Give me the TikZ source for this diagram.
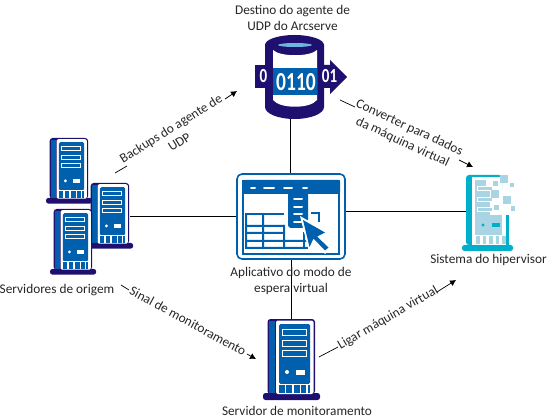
\documentclass[tikz,border=0pt]{standalone}
\usepackage{fontspec}
\setmainfont{Carlito}
\definecolor{navy}{HTML}{1F1070}
\definecolor{blu}{HTML}{0060AE}
\definecolor{teal1}{HTML}{00B0CA}
\definecolor{lite}{HTML}{A8D4E4}
\definecolor{skyb}{HTML}{6FB4E0}
\definecolor{txt}{HTML}{262626}
\usetikzlibrary{arrows.meta}
\tikzset{
  x=1pt,y=-1pt,
  lab/.style={font=\fontsize{13.3}{16}\selectfont,text=txt,align=center,inner sep=0pt},
  link/.style={draw=black,line width=.7pt},
  tip/.style={draw=black,line width=.7pt,-{Latex[length=6pt,width=6.5pt]}},
  hub/.style={inner sep=0pt,minimum size=0pt},
  digit/.style={inner sep=0pt,text=white,font=\bfseries\fontsize{26}{26}\selectfont,xscale=.75,transform shape},
  digits/.style={digit,font=\bfseries\fontsize{20}{20}\selectfont},
  pics/srv/.style={code={
    \fill[navy,rounded corners=2.5] (0,74) rectangle (57,81);
    \fill[navy,rounded corners=3] (4.5,0) rectangle (52,75);
    \fill[blu] (6,2) rectangle (12,74);
    \fill[white,rounded corners=2] (13,1.5) rectangle (50.5,75);
    \fill[blu,rounded corners=1.5] (16,5) rectangle (47,65);
    \fill[blu] (16,65) rectangle (47,74);
    \foreach \yy in {10,21,31}{\draw[white,line width=1pt,fill=blu] (19,\yy) rectangle (43,\yy+6);}
    \fill[white] (24,53) circle (2);
    \fill[white] (33,51) rectangle (42,55.5);
    \foreach \xx in {21.5,29,36.5,43}{\fill[white] (\xx,65) rectangle (\xx+1.6,74);}
    \fill[white] (16,64.5) rectangle (47,65.5);
  }},
  pics/hyper/.style={code={
    \fill[teal1,rounded corners=2.5] (0,70) rectangle (51,76);
    \fill[teal1,rounded corners=3] (4,0) rectangle (40,70);
    \fill[white] (10,2) rectangle (40,70);
    \fill[teal1] (44,40) rectangle (47,70);
    \fill[white] (40,40) rectangle (44,70);
    \fill[lite] (13,5) rectangle (40,60);
    \fill[white] (24,5) rectangle (40,14);
    \fill[white] (28,14) rectangle (43,40);
    \foreach \yy in {12,23,33}{\draw[white,line width=1pt,fill=lite] (15,\yy) rectangle (30,\yy+4);}
    \fill[lite] (38,0) rectangle (46,8);
    \fill[lite] (48,8) rectangle (52,12);
    \fill[lite] (31,6) rectangle (36,11);
    \fill[lite] (29,15) rectangle (37,23);
    \fill[lite] (41,21) rectangle (49,29);
    \fill[lite] (32,30) rectangle (37,35);
    \fill[lite] (49,31) rectangle (53,36);
    \fill[teal1] (21,50) circle (1.7);
    \fill[teal1] (30,48) rectangle (38,52);
    \foreach \xx in {14,20.5,27,33.5,40}{\fill[lite] (\xx,61) rectangle (\xx+3.5,69);}
  }}
}
\begin{document}
\begin{tikzpicture}
\useasboundingbox (0,0) rectangle (548,419);

% hubs
\node[hub] (dbb) at (290,118) {};
\node[hub] (appt) at (290,173) {};
\node[hub] (appb) at (291.5,260) {};
\node[hub] (appl) at (236,216) {};
\node[hub] (appr) at (346,211) {};
\node[hub] (srcr) at (130,216) {};
\node[hub] (monT) at (291.5,319) {};
\node[hub] (hypL) at (466,211) {};
\draw[link] (dbb) -- (appt);
\draw[link] (appb) -- (monT);
\draw[link] (srcr) -- (appl);
\draw[link] (appr) -- (hypL);

% source servers
\pic[scale=.81,transform shape] at (46,138) {srv};
\pic[scale=.81,transform shape] at (87,183) {srv};
\pic[scale=.81,transform shape] at (50,209) {srv};
% monitoring server
\pic at (263,319) {srv};
% hypervisor
\pic at (462,175) {hyper};

% database
\fill[navy] (255,65) rectangle (266,88);
\fill[navy] (322,65) -- (330,65) -- (330,60) -- (347,77) -- (330,94) -- (330,88) -- (322,88) -- cycle;
\fill[navy] (265,45) arc[start angle=180,end angle=360,x radius=29.5,y radius=10]
  -- (324,107) arc[start angle=0,end angle=180,x radius=29.5,y radius=12] -- cycle;
\fill[skyb] (295,45) ellipse (17 and 2);
\fill[white] (273,50) .. controls (280,57) and (310,57) .. (317,50) -- (317,100)
  .. controls (310,109) and (280,109) .. (273,100) -- cycle;
\fill[blu] (273,68) rectangle (317,95);
\node[digit] at (296,82) {0110};
\node[digits] at (263.5,76.5) {0};
\node[digits] at (329.5,76.5) {01};

% app
\draw[blu,line width=1.6pt,fill=white,rounded corners=5] (237,174) rectangle (345,259);
\draw[blu,line width=1.3pt] (243,181) rectangle (339,254);
\fill[blu,rounded corners=2] (242,180) rectangle (340,194);
\foreach \a/\b in {251/255,264/274,284/292,303/307}{\draw[white,line width=2pt,line cap=round] (\a,188) -- (\b,188);}
\draw[blu,line width=1.3pt] (245,214) -- (284,214);
\fill[blu] (245,225) rectangle (284,227) (245,232) rectangle (284,234) (245,240) rectangle (309,242) (245,247) rectangle (309,249);
\fill[blu] (262,215) rectangle (264,249) (283,225) rectangle (285,249) (245,215) rectangle (247,249);
\fill[blu] (303,232) rectangle (305,249);
\fill[blu,rounded corners=3] (288,190) rectangle (308,228);
\foreach \yy in {199,207,214,222}{\draw[white,line width=2pt,line cap=round] (294,\yy) -- (302,\yy);}
\draw[blu,line width=1.5pt] (311,213) -- (319,213) -- (319,222);
\fill[white] (300,216) -- (330,233) -- (321,237) -- (332,248) -- (325,254) -- (313,242) -- (309,252) -- cycle;
\fill[blu] (303,220) -- (325,232.5) -- (317,236.5) -- (328.5,247.5) -- (325,250.5) -- (313.5,238.5) -- (309.5,247) -- cycle;

% labels
\node[lab] (tDB) at (292.5,18) {Destino do agente de\\UDP do Arcserve};
\node[lab] (tSrc) at (57,290) {Servidores de origem};
\node[lab] (tApp) at (291,281) {Aplicativo do modo de\\espera virtual};
\node[lab] (tHyp) at (488.5,260) {Sistema do hipervisor};
\node[lab] (tMon) at (297,411) {Servidor de monitoramento};

% connector labels
\node[lab,rotate=32] (l1) at (175,135) {Backups do agente de\\UDP};
\node[lab,rotate=-25] (l2) at (406,135) {Converter para dados\\da máquina virtual};
\node[lab,rotate=-28.5] (l3) at (188,321) {Sinal de monitoramento};
\node[lab,rotate=30] (l4) at (388,318) {Ligar máquina virtual};

\coordinate (a1) at (115,173); \coordinate (a2) at (127,166);
\coordinate (a3) at (225,99); \coordinate (a4) at (237,91);
\coordinate (b1) at (340,100); \coordinate (b2) at (355,107);
\coordinate (b3) at (459,160); \coordinate (b4) at (473,167);
\coordinate (c1) at (121,285); \coordinate (c2) at (129,290);
\coordinate (c3) at (247,354); \coordinate (c4) at (256,359);
\coordinate (d1) at (319,357); \coordinate (d2) at (338,347);
\coordinate (d3) at (437,292); \coordinate (d4) at (456,280);
\draw[link] (a1) -- (a2);
\draw[tip] (a3) -- (a4);
\draw[link] (b1) -- (b2);
\draw[tip] (b3) -- (b4);
\draw[link] (c1) -- (c2);
\draw[tip] (c3) -- (c4);
\draw[link] (d1) -- (d2);
\draw[tip] (d3) -- (d4);
\end{tikzpicture}
\end{document}
